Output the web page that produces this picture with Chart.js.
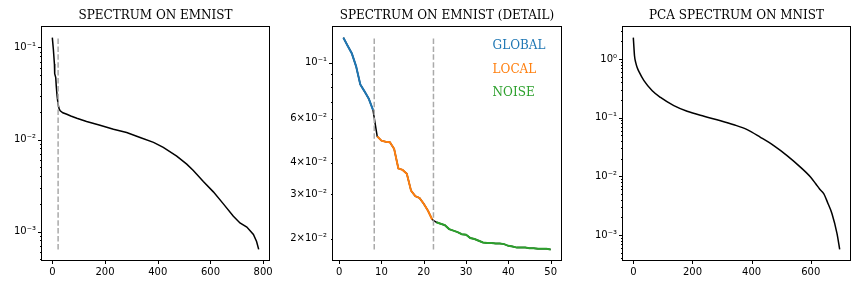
<!DOCTYPE html>
<html>
<head>
<meta charset="utf-8">
<script src="https://cdn.jsdelivr.net/npm/chart.js@4.4.1/dist/chart.umd.min.js"></script>
<style>
  html, body { margin: 0; padding: 0; background: #fff; }
  #wrap { position: relative; width: 864px; height: 288px; }
  canvas { position: absolute; top: 0; }
</style>
</head>
<body>
<div id="wrap">
  <canvas id="emnistChart" width="288" height="288" style="left:0"></canvas>
  <canvas id="detailChart" width="318" height="288" style="left:258px"></canvas>
  <canvas id="pcaChart" width="288" height="288" style="left:576px"></canvas>
</div>
<script>
// Values

// Panel 1: spectrum on EMNIST (index -> value)
const emnistIdx = [0, 4, 8, 9, 13, 15, 18, 22, 26, 30, 40, 55, 70, 93, 130, 181, 232, 282,
                   333, 384, 421, 472, 510, 535, 573, 611, 649, 687, 712, 738, 763, 775, 783];
const emnistVal = [0.128, 0.095, 0.066, 0.052, 0.047, 0.038, 0.030, 0.024, 0.0215, 0.0205,
                   0.0195, 0.0188, 0.0180, 0.0170, 0.0157, 0.0143, 0.0129, 0.0119, 0.0105,
                   0.0093, 0.0082, 0.0066, 0.0054, 0.0046, 0.0035, 0.0027, 0.0020, 0.00147,
                   0.00124, 0.00112, 0.00093, 0.00078, 0.00064];
const emnistCut = 22;
const emnistXTicks = [0, 200, 400, 600, 800];
const emnistYTicks = [1e-3, 1e-2, 1e-1];
const emnistYLabels = ['10\u207B\u00B3', '10\u207B\u00B2', '10\u207B\u00B9'];

// Panel 2: first 50 values, coloured by phase
const detailVal = [0.126, 0.117, 0.109, 0.097, 0.082, 0.077, 0.072, 0.065, 0.051, 0.049,
                   0.0485, 0.0483, 0.0455, 0.038, 0.0375, 0.0362, 0.031, 0.0295, 0.0290, 0.0275,
                   0.0258, 0.0238, 0.0232, 0.0229, 0.0226, 0.0218, 0.0215, 0.0212, 0.0208, 0.0207,
                   0.0201, 0.0199, 0.0196, 0.0193, 0.0192, 0.0192, 0.0191, 0.0191, 0.0190, 0.0187,
                   0.0186, 0.0184, 0.0184, 0.0184, 0.0183, 0.0183, 0.0182, 0.0182, 0.0182, 0.0181];
const phaseNames = ['GLOBAL', 'LOCAL', 'NOISE'];
const phaseRanges = [[1, 8], [9, 22], [23, 50]];
const phaseCuts = [8.3, 22.3];
const detailXTicks = [0, 10, 20, 30, 40, 50];
const detailYTicks = [0.02, 0.03, 0.04, 0.06, 0.1];
const detailYLabels = ['2\u00D710\u207B\u00B2', '3\u00D710\u207B\u00B2', '4\u00D710\u207B\u00B2',
                       '6\u00D710\u207B\u00B2', '10\u207B\u00B9'];

// Panel 3: PCA spectrum on MNIST
const pcaIdx = [0, 2, 4, 8, 13, 20, 36, 64, 92, 137, 182, 239, 295, 340, 385, 430, 475, 520,
                566, 600, 617, 630, 644, 658, 672, 689, 698];
const pcaVal = [2.33, 1.6, 1.14, 0.88, 0.72, 0.6, 0.43, 0.289, 0.222, 0.161, 0.129, 0.106,
                0.0893, 0.0763, 0.0628, 0.0465, 0.0336, 0.0227, 0.0143, 0.0097, 0.0075,
                0.0061, 0.00508, 0.0035, 0.00232, 0.00106, 0.00057];
const pcaXTicks = [0, 200, 400, 600];
const pcaYTicks = [1e-3, 1e-2, 1e-1, 1];
const pcaYLabels = ['10\u207B\u00B3', '10\u207B\u00B2', '10\u207B\u00B9', '10\u2070'];

const minorSteps = [2, 3, 4, 5, 6, 7, 8, 9];
const phaseColors = ['#1f77b4', '#ff7f0e', '#2ca02c'];
const tickFont = { family: 'DejaVu Sans', size: 10 };
const titleFont = { family: 'DejaVu Serif', size: 12, weight: 'normal' };

// matplotlib-like autoscale with 5% margins
function linRange(xs) {
    const a = Math.min(...xs), b = Math.max(...xs), m = (b - a) * 0.05;
    return [a - m, b + m];
}
function logRange(vs) {
    const a = Math.log10(Math.min(...vs)), b = Math.log10(Math.max(...vs)), m = (b - a) * 0.05;
    return [Math.pow(10, a - m), Math.pow(10, b + m)];
}

function logTickList(labelled, labels, lo, hi) {
    const out = [];
    for (let e = Math.floor(Math.log10(lo)); e <= Math.ceil(Math.log10(hi)); e++) {
        [1].concat(minorSteps).forEach(k => {
            const v = +(k * Math.pow(10, e)).toPrecision(6);
            if (v < lo || v > hi) return;
            const j = labelled.findIndex(t => Math.abs(t / v - 1) < 1e-6);
            out.push({ value: v, major: k === 1, text: j >= 0 ? labels[j] : '' });
        });
    }
    return out;
}

// frame + outward tick marks like matplotlib
const frameTicks = {
    id: 'frameTicks',
    afterDraw(chart) {
        const { ctx, chartArea: a } = chart;
        const xs = chart.scales.x, ys = chart.scales.y;
        ctx.save();
        ctx.strokeStyle = '#000';
        ctx.lineWidth = 1;
        ctx.strokeRect(a.left - 0.5, a.top - 0.5, a.right - a.left + 1, a.bottom - a.top + 1);
        ctx.beginPath();
        xs.ticks.forEach(t => {
            const px = Math.round(xs.getPixelForValue(t.value)) + 0.5;
            ctx.moveTo(px, a.bottom);
            ctx.lineTo(px, a.bottom + 4);
        });
        ys.ticks.forEach(t => {
            const py = Math.round(ys.getPixelForValue(t.value)) + 0.5;
            ctx.moveTo(a.left, py);
            ctx.lineTo(a.left - (t.major ? 4 : 2), py);
        });
        ctx.stroke();
        ctx.restore();
    }
};

// coloured phase names in the detail panel
const phaseLabels = {
    id: 'phaseLabels',
    afterDatasetsDraw(chart, args, opts) {
        if (!opts.items) return;
        const { ctx, chartArea: a } = chart;
        ctx.save();
        ctx.font = '12px "DejaVu Serif"';
        ctx.textBaseline = 'middle';
        opts.items.forEach((it, i) => {
            ctx.fillStyle = it.color;
            ctx.fillText(it.text, a.left + 0.7 * (a.right - a.left),
                         a.top + (0.082 + 0.1 * i) * (a.bottom - a.top));
        });
        ctx.restore();
    }
};

function points(xs, ys) {
    return xs.map((x, i) => ({ x: x, y: ys[i] }));
}

function line(data, color, width) {
    return {
        data: data,
        showLine: true,
        borderColor: color,
        borderWidth: width,
        pointRadius: 0,
        tension: 0
    };
}

function vline(x, yr) {
    return {
        data: [{ x: x, y: yr[0] }, { x: x, y: yr[1] }],
        showLine: true,
        borderColor: '#aaaaaa',
        borderWidth: 1.5,
        borderDash: [5.5, 2.4],
        pointRadius: 0
    };
}

function makeChart(id, cfg) {
    const yTicks = logTickList(cfg.yLabelled, cfg.yLabels, cfg.yRange[0], cfg.yRange[1]);
    return new Chart(document.getElementById(id), {
        type: 'scatter',
        data: { datasets: cfg.datasets },
        plugins: [frameTicks, phaseLabels],
        options: {
            responsive: false,
            animation: false,
            layout: { padding: { left: cfg.padLeft, right: cfg.padRight, top: 0, bottom: 0 } },
            plugins: {
                legend: { display: false },
                tooltip: { enabled: false },
                title: {
                    display: true,
                    text: cfg.title,
                    color: '#000',
                    font: titleFont,
                    fullSize: false,
                    padding: { top: 9, bottom: 3.6 }
                },
                phaseLabels: { items: cfg.labels }
            },
            scales: {
                x: {
                    type: 'linear',
                    min: cfg.xRange[0],
                    max: cfg.xRange[1],
                    bounds: 'data',
                    grid: { display: false, drawTicks: false },
                    border: { display: false },
                    ticks: {
                        autoSkip: false, maxRotation: 0, padding: 6,
                        color: '#000', font: tickFont,
                        callback: (v, i, t) => t[i].text
                    },
                    afterBuildTicks: s => { s.ticks = cfg.xTicks.map(v => ({ value: v, text: String(v) })); },
                    afterFit: s => { s.height = 28; s.paddingLeft = 0; s.paddingRight = 0; }
                },
                y: {
                    type: 'logarithmic',
                    min: cfg.yRange[0],
                    max: cfg.yRange[1],
                    bounds: 'data',
                    grid: { display: false, drawTicks: false },
                    border: { display: false },
                    ticks: {
                        autoSkip: false, padding: 6,
                        color: '#000', font: tickFont,
                        callback: (v, i, t) => t[i].text
                    },
                    afterBuildTicks: s => { s.ticks = yTicks.map(t => Object.assign({}, t)); },
                    afterFit: s => { s.width = cfg.axisWidth; s.paddingTop = 0; s.paddingBottom = 0; }
                }
            }
        }
    });
}

// Panel 1
const emnistY = logRange(emnistVal);
const emnistDataY = [Math.min(...emnistVal), Math.max(...emnistVal)];
makeChart('emnistChart', {
    title: 'SPECTRUM ON EMNIST',
    padLeft: 2, padRight: 19, axisWidth: 40,
    xRange: linRange(emnistIdx), yRange: emnistY,
    xTicks: emnistXTicks, yLabelled: emnistYTicks, yLabels: emnistYLabels,
    datasets: [
        vline(emnistCut, emnistDataY),
        line(points(emnistIdx, emnistVal), '#000', 1.5)
    ]
});

// Panel 2 (canvas starts at x=258 and its y axis box is wide, so the long labels are not clipped)
const detailIdx = detailVal.map((v, i) => i + 1);
const detailPts = points(detailIdx, detailVal);
const detailDataY = [Math.min(...detailVal), Math.max(...detailVal)];
makeChart('detailChart', {
    title: 'SPECTRUM ON EMNIST (DETAIL)',
    padLeft: 2, padRight: 15, axisWidth: 73,
    xRange: linRange(detailIdx), yRange: logRange(detailVal),
    xTicks: detailXTicks, yLabelled: detailYTicks, yLabels: detailYLabels,
    labels: phaseNames.map((n, i) => ({ text: n, color: phaseColors[i] })),
    datasets: phaseCuts.map(c => vline(c, detailDataY))
        .concat(phaseRanges.map((r, i) =>
            line(detailPts.filter(p => p.x >= r[0] && p.x <= r[1]), phaseColors[i], 2)))
        .concat([line(detailPts, '#000', 1.5)])
});

// Panel 3
const pcaLine = line(points(pcaIdx, pcaVal), '#000', 1.5);
pcaLine.cubicInterpolationMode = 'monotone';
makeChart('pcaChart', {
    title: 'PCA SPECTRUM ON MNIST',
    padLeft: 7, padRight: 14, axisWidth: 40,
    xRange: linRange(pcaIdx), yRange: logRange(pcaVal),
    xTicks: pcaXTicks, yLabelled: pcaYTicks, yLabels: pcaYLabels,
    datasets: [pcaLine]
});
</script>
</body>
</html>
